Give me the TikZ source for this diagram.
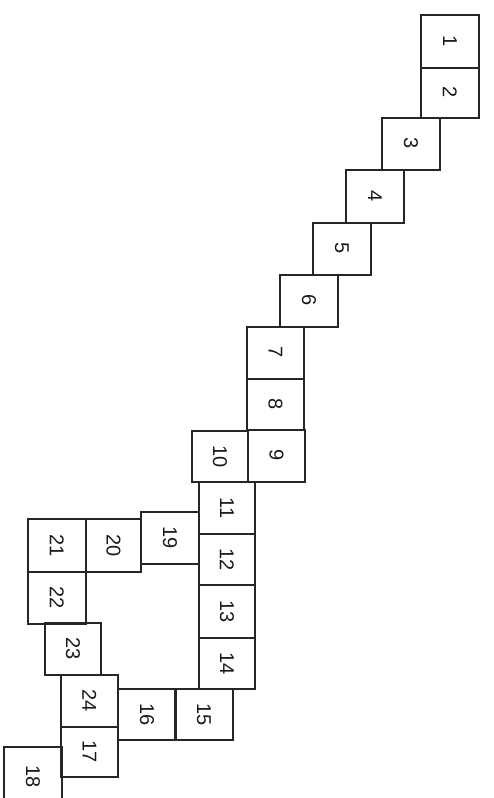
\documentclass[tikz,border=0pt]{standalone}
\usepackage{fontspec}
\setmainfont{Liberation Sans}
\begin{document}
\begin{tikzpicture}[x=1pt,y=-1pt,
  cell/.style={draw=black!85, line width=1.8pt, inner sep=0pt, anchor=north west,
    font=\fontsize{20}{20}\selectfont, text=black!90}]
\useasboundingbox (0,0) rectangle (493,798);
\clip (0,0) rectangle (493,798);
\foreach \n/\l/\t/\r/\b in {
  1/420/14/478/67, 2/420/67/478/117, 3/381/117/439/169, 4/345/169/403/222,
  5/312/222/370/274, 6/279/274/337/326, 7/246/326/303/378, 8/246/378/303/429,
  9/247/429/304/481, 10/191/430/247/481, 11/198/481/254/533, 12/198/533/254/584,
  13/198/584/254/637, 14/198/637/254/688, 15/174/688/232/739, 16/117/688/175/739,
  17/60/726/117/776, 18/3/746/61/806, 19/140/511/198/563, 20/85/518/140/571,
  21/27/518/85/571, 22/27/571/85/623, 23/44/622/100/674, 24/60/674/117/726}
{
  \node[cell, minimum width={\r-\l}, minimum height={\b-\t}] (b\n) at (\l,\t)
    {\rotatebox[origin=c]{-90}{\n}};
}
\end{tikzpicture}
\end{document}
